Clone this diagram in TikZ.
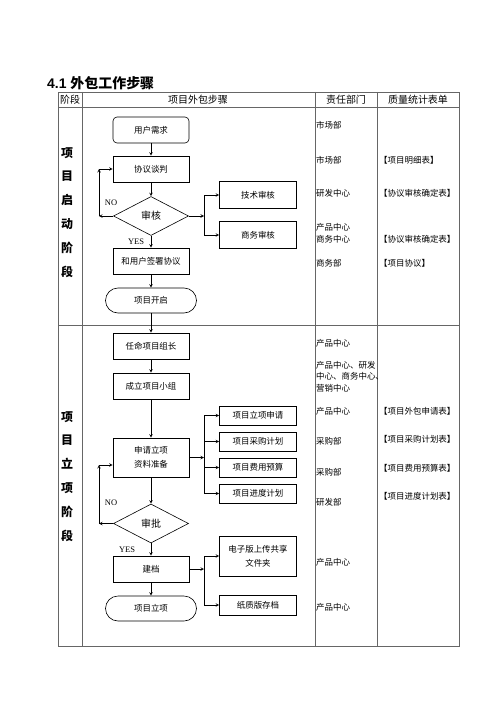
\documentclass[tikz,border=0pt]{standalone}
\usepackage{fontspec}
\setmainfont{Liberation Serif}
\newfontfamily\cjk{Noto Sans CJK SC}
\newfontfamily\titlefont{Liberation Sans}
\usetikzlibrary{shapes.geometric, arrows}
\tikzstyle{stepbox} = [rectangle, draw, text centered, align=center, minimum width=76bp, minimum height=26bp, inner sep=1bp, line width=0.6bp, font=\cjk\fontsize{8.5}{14}\selectfont]
\tikzstyle{sidebox} = [stepbox, minimum width=77bp]
\tikzstyle{endbox} = [stepbox, rounded corners=12.5bp, minimum width=91bp, minimum height=25bp]
\tikzstyle{decide} = [diamond, draw, minimum width=75bp, minimum height=39bp, inner sep=0pt, line width=0.6bp, font=\cjk\fontsize{10}{12}\selectfont]
\tikzstyle{arrow} = [->, >=stealth, line width=0.6bp]
\tikzstyle{dept} = [anchor=west, align=left, inner sep=0pt, font=\cjk\fontsize{8.5}{11.5}\selectfont]
\tikzstyle{tableline} = [draw=black!60, line width=0.9bp]
\tikzstyle{stagelbl} = [align=center, inner sep=0pt, font=\cjk\bfseries\fontsize{12}{24}\selectfont]
\tikzstyle{head} = [inner sep=0pt, font=\cjk\fontsize{10}{12}\selectfont]
\tikzstyle{yesno} = [inner sep=0pt, font=\fontsize{8.5}{10}\selectfont]

\begin{document}
\begin{tikzpicture}[x=1bp, y=-1bp]
\useasboundingbox (0,0) rectangle (500,707);

% table
\draw[tableline] (58,92) rectangle (459,646);
\draw[tableline] (58,107) -- (459,107);
\draw[tableline] (82,92) -- (82,646);
\draw[tableline] (315,92) -- (315,646);
\draw[tableline] (377,92) -- (377,646);
\draw[tableline] (58,325) -- (459,325);

\node (title) [anchor=west, inner sep=0pt] at (47,83) {\titlefont\bfseries\fontsize{14}{16}\selectfont 4.1 \cjk\bfseries 外包工作步骤};
\node (h1) [head] at (70,100) {阶段};
\node (h2) [head] at (198,100) {项目外包步骤};
\node (h3) [head] at (346,100) {责任部门};
\node (h4) [head] at (418,100) {质量统计表单};

\node (s1) [stagelbl] at (67,212.5) {项\\目\\启\\动\\阶\\段};
\node (s2) [stagelbl] at (67,476.5) {项\\目\\立\\项\\阶\\段};

% stage 1
\node (req) [stepbox, rounded corners=4bp] at (151,130) {用户需求};
\node (talk) [stepbox] at (151,169) {协议谈判};
\node (chk) [decide] at (151,216) {审核};
\node (tech) [sidebox, minimum height=27bp] at (258,195) {技术审核};
\node (biz) [sidebox, minimum height=27bp] at (258,235) {商务审核};
\node (sign) [stepbox] at (151,261) {和用户签署协议};
\node (open) [endbox] at (151,300.5) {项目开启};

\coordinate (n1) at (99,216);
\coordinate (n2) at (99,169);
\coordinate (j1) at (204,216);

\draw[arrow] (req) -- (talk);
\draw[arrow] (talk) -- (chk);
\draw[arrow] (chk) -- (sign);
\draw[arrow] (sign) -- (open);
\draw[arrow] (chk.west) -- (n1);
\draw[arrow] (n1) -- (n2);
\draw[arrow] (n2) -- (talk.west);
\draw[arrow] (chk.east) -- (j1);
\draw[arrow] (j1) |- (tech.west);
\draw[arrow] (j1) |- (biz.west);
\node (no1) [yesno] at (111,203) {NO};
\node (yes1) [yesno] at (136,242) {YES};

\node (d1) [dept] at (316,125) {市场部};
\node (d2) [dept] at (316,160) {市场部};
\node (d3) [dept] at (316,193) {研发中心};
\node (d4) [dept] at (316,233.5) {产品中心\\商务中心};
\node (d5) [dept] at (316,263) {商务部};
\node (q1) [dept] at (379,160) {【项目明细表】};
\node (q2) [dept] at (379,193) {【协议审核确定表】};
\node (q3) [dept] at (379,239) {【协议审核确定表】};
\node (q4) [dept] at (379,263) {【项目协议】};

% stage 2
\node (lead) [stepbox] at (151,346) {任命项目组长};
\node (team) [stepbox] at (151,386) {成立项目小组};
\node (apply) [stepbox, minimum height=39bp] at (151,457.5) {申请立项\\资料准备};
\node (f1) [sidebox, minimum height=19bp] at (258,415.5) {项目立项申请};
\node (f2) [sidebox, minimum height=19bp] at (258,441.5) {项目采购计划};
\node (f3) [sidebox, minimum height=19bp] at (258,467.5) {项目费用预算};
\node (f4) [sidebox, minimum height=19bp] at (258,493.5) {项目进度计划};
\node (appr) [decide] at (151,523.5) {审批};
\node (arch) [stepbox] at (151,569) {建档};
\node (done) [endbox] at (151,608.5) {项目立项};
\node (e1) [sidebox, minimum height=40bp] at (258,556) {电子版上传共享\\文件夹};
\node (e2) [sidebox, minimum height=20bp] at (258,605) {纸质版存档};

\coordinate (n3) at (99,523.5);
\coordinate (n4) at (99,465);
\coordinate (j2) at (204,457.5);
\coordinate (j3) at (204,569);

\draw[arrow] (open) -- (lead);
\draw[arrow] (lead) -- (team);
\draw[arrow] (team) -- (apply);
\draw[arrow] (apply) -- (appr);
\draw[arrow] (appr) -- (arch);
\draw[arrow] (arch) -- (done);
\draw[arrow] (appr.west) -- (n3);
\draw[arrow] (n3) -- (n4);
\draw[arrow] (n4) -- (n4 -| apply.west);
\draw[arrow] (apply.east) -- (j2);
\draw[arrow] (j2) |- (f1.west);
\draw[arrow] (j2) |- (f2.west);
\draw[arrow] (j2) |- (f3.west);
\draw[arrow] (j2) |- (f4.west);
\draw[arrow] (arch.east) -- (j3);
\draw[arrow] (j3) |- (e1.west);
\draw[arrow] (j3) |- (e2.west);
\node (no2) [yesno] at (111,503) {NO};
\node (yes2) [yesno] at (127,550) {YES};

\node (d6) [dept] at (316,343) {产品中心};
\node (d7) [dept] at (316,376.5) {产品中心、研发\\中心、商务中心、\\营销中心};
\node (d8) [dept] at (316,411) {产品中心};
\node (d9) [dept] at (316,441) {采购部};
\node (d10) [dept] at (316,472) {采购部};
\node (d11) [dept] at (316,502) {研发部};
\node (d12) [dept] at (316,562) {产品中心};
\node (d13) [dept] at (316,607) {产品中心};
\node (q5) [dept] at (379,411) {【项目外包申请表】};
\node (q6) [dept] at (379,439) {【项目采购计划表】};
\node (q7) [dept] at (379,468) {【项目费用预算表】};
\node (q8) [dept] at (379,496) {【项目进度计划表】};
\end{tikzpicture}
\end{document}
